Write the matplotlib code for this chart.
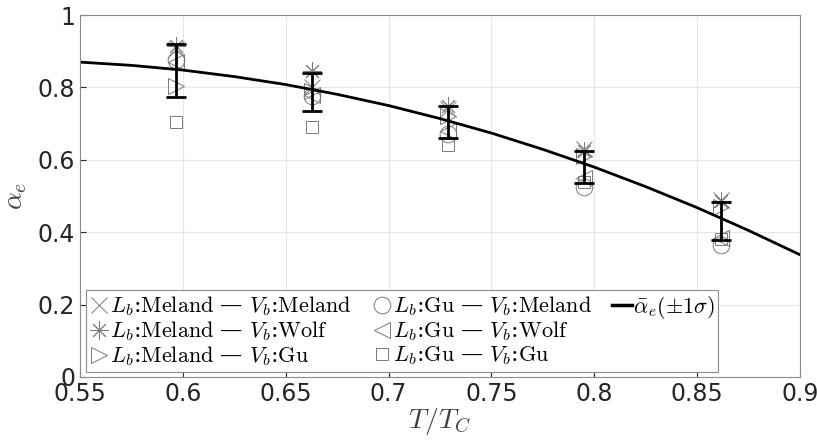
import numpy as np
import matplotlib
matplotlib.use("Agg")
from matplotlib import pyplot as plt
from matplotlib.lines import Line2D

plt.rcParams['mathtext.fontset'] = 'cm'
plt.rcParams['font.family'] = ['DejaVu Sans']

# temperatures of the five clusters
T = [0.5966, 0.663, 0.729, 0.7951, 0.8617]

# alpha_e for each combination of Lb / Vb models
a_mel_mel = [0.905, 0.800, 0.740, 0.630, 0.490]
a_mel_wolf = [0.915, 0.845, 0.750, 0.625, 0.485]
a_mel_gu = [0.805, 0.790, 0.720, 0.610, 0.470]
a_gu_mel = [0.875, 0.775, 0.670, 0.525, 0.365]
a_gu_wolf = [0.870, 0.780, 0.680, 0.550, 0.385]
a_gu_gu = [0.705, 0.690, 0.640, 0.540, 0.380]

# mean and +/- 1 sigma
err_top = [0.920, 0.840, 0.748, 0.624, 0.483]
err_bot = [0.773, 0.735, 0.660, 0.536, 0.378]

# fitted mean curve
T_fit = [0.55, 0.575, 0.60, 0.625, 0.65, 0.675, 0.70, 0.725, 0.75, 0.775,
         0.80, 0.825, 0.85, 0.875, 0.90]
a_fit = [0.870, 0.861, 0.848, 0.830, 0.808, 0.781, 0.750, 0.714, 0.674, 0.629,
         0.580, 0.526, 0.468, 0.405, 0.338]

fig = plt.figure(figsize=(8.17, 4.43), dpi=100)
ax = fig.add_axes([0.098, 0.149, 0.881, 0.817])

gray = '#7a7a7a'

series = [
    (a_mel_mel, 'x', 11, r'$L_b$:$\mathrm{Meland}$ — $V_b$:$\mathrm{Meland}$'),
    (a_mel_wolf, (8, 2, 0), 13, r'$L_b$:$\mathrm{Meland}$ — $V_b$:$\mathrm{Wolf}$'),
    (a_mel_gu, '>', 12, r'$L_b$:$\mathrm{Meland}$ — $V_b$:$\mathrm{Gu}$'),
    (a_gu_mel, 'o', 12, r'$L_b$:$\mathrm{Gu}$ — $V_b$:$\mathrm{Meland}$'),
    (a_gu_wolf, '<', 12, r'$L_b$:$\mathrm{Gu}$ — $V_b$:$\mathrm{Wolf}$'),
    (a_gu_gu, 's', 9, r'$L_b$:$\mathrm{Gu}$ — $V_b$:$\mathrm{Gu}$'),
]

handles = []
for vals, m, ms, lab in series:
    ax.plot(T, vals, marker=m, linestyle='none', markerfacecolor='none',
            markeredgecolor=gray, markersize=ms, markeredgewidth=0.7)
    handles.append(Line2D([], [], marker=m, linestyle='none',
                          markerfacecolor='none', markeredgecolor=gray,
                          markersize=ms, markeredgewidth=0.7, label=lab))

ax.plot(T_fit, a_fit, color='black', linewidth=2)
mid = [(t + b) / 2 for t, b in zip(err_top, err_bot)]
half = [(t - b) / 2 for t, b in zip(err_top, err_bot)]
ax.errorbar(T, mid, yerr=half, fmt='none', ecolor='black', elinewidth=2,
            capsize=7, capthick=2)
mean_h = Line2D([], [], color='black', linewidth=2.5,
                label=r'$\bar{\alpha}_e(\pm1\sigma)$')
blank = Line2D([], [], linestyle='none', label=' ')

ax.set_xlim(0.55, 0.9)
ax.set_ylim(0, 1)
ax.set_xticks([0.55, 0.6, 0.65, 0.7, 0.75, 0.8, 0.85, 0.9])
ax.set_xticklabels(['0.55', '0.6', '0.65', '0.7', '0.75', '0.8', '0.85', '0.9'])
ax.set_yticks([0, 0.2, 0.4, 0.6, 0.8, 1])
ax.set_yticklabels(['0', '0.2', '0.4', '0.6', '0.8', '1'])
ax.tick_params(direction='in', labelsize=17, colors='#262626', length=4,
               top=False, right=False)
ax.grid(True, color='#e6e6e6', linewidth=0.8)
ax.set_axisbelow(True)
for s in ax.spines.values():
    s.set_color('#8c8c8c')
    s.set_linewidth(0.8)

ax.set_xlabel(r'$T/T_C$', fontsize=20, color='#404040', labelpad=0)
ax.set_ylabel(r'$\alpha_e$', fontsize=20, color='#404040', labelpad=6)

# column-major 3-column legend: 3, 3, 1 (padded with blanks)
order = handles[:3] + handles[3:6] + [mean_h, blank, blank]
leg = ax.legend(handles=order, ncol=3, loc='lower left',
                bbox_to_anchor=(0.008, 0.015),
                prop={'family': ['DejaVu Serif'], 'size': 16},
                frameon=True, fancybox=False, framealpha=1,
                edgecolor='#8c8c8c', handlelength=0.9, handletextpad=0.05,
                columnspacing=0.9, labelspacing=0.05, borderpad=0.15,
                borderaxespad=0)
leg.get_frame().set_linewidth(0.8)

fig.savefig('out.png', dpi=100)
